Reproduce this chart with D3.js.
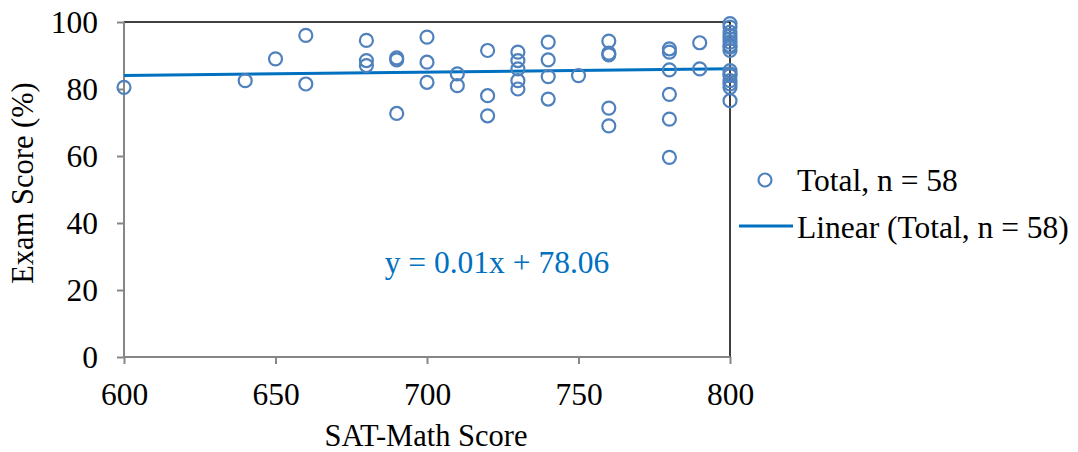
<!DOCTYPE html>
<html><head><meta charset="utf-8">
<script src="https://cdn.jsdelivr.net/npm/d3@7"></script>
<style>body{margin:0;background:#fff;} svg text{font-family:"Liberation Serif","Times New Roman",serif !important;}</style>
</head><body><svg id="c" width="1078" height="452"></svg>
<script>
const satScores = [600,640,650,660,660,680,680,680,690,690,690,700,700,700,710,710,720,720,720,
  730,730,730,730,730,740,740,740,740,750,760,760,760,760,760,780,780,780,780,780,780,790,790,
  800,800,800,800,800,800,800,800,800,800,800,800,800,800,800,800];
const examScores = [80.5,82.5,89,96,81.5,94.5,88.5,87,89.3,88.7,72.7,95.5,88,82,84.5,81,91.5,78,72,
  91,88.5,86,82.5,80,94,88.7,83.7,77,84,94.3,90.7,90.2,74.3,69,92,91,85.7,78.4,71,59.6,93.8,86,
  99.5,98.5,97,96,95,94,93,92.5,91.5,85.5,84.5,84,82.5,81.5,80.5,76.5];
const xTicks = [600,650,700,750,800];
const yTicks = [0,20,40,60,80,100];
const slope = 0.01, intercept = 78.06;
const seriesName = "Total, n = 58";
const trendName = "Linear (Total, n = 58)";
const eqLabel = "y = 0.01x + 78.06";

const svg = d3.select("#c");
const x = d3.scaleLinear().domain([600,800]).range([124,730]);
const y = d3.scaleLinear().domain([0,100]).range([357,22]);
const grey = "#868686";
const FS = "31.5px";

svg.append("line").attr("x1",124).attr("x2",730).attr("y1",22).attr("y2",22).attr("stroke","#000").attr("stroke-width",1.5);
svg.append("line").attr("x1",730).attr("x2",730).attr("y1",22).attr("y2",357).attr("stroke","#000").attr("stroke-width",1.5);

const yAxis = svg.append("g").attr("transform","translate(124,0)")
  .call(d3.axisLeft(y).tickValues(yTicks).tickSize(7).tickPadding(19));
const xAxis = svg.append("g").attr("transform","translate(0,357)")
  .call(d3.axisBottom(x).tickValues(xTicks).tickSize(7).tickPadding(19));
[yAxis,xAxis].forEach(a=>{
  a.attr("font-family",null).attr("font-size",null);
  a.select(".domain").attr("stroke",grey).attr("stroke-width",2);
  a.selectAll(".tick line").attr("stroke",grey).attr("stroke-width",2);
  a.selectAll(".tick text").attr("fill","#000").style("font-size",FS);
});
yAxis.select(".domain").attr("d","M0,22V357");
xAxis.select(".domain").attr("d","M124,0H730");

svg.append("line")
  .attr("x1",x(600)).attr("y1",y(slope*600+intercept))
  .attr("x2",x(800)).attr("y2",y(slope*800+intercept))
  .attr("stroke","#0070C0").attr("stroke-width",3);

svg.append("g").selectAll("circle").data(satScores.map((s,i)=>[s,examScores[i]])).join("circle")
  .attr("cx",d=>x(d[0])).attr("cy",d=>y(d[1])).attr("r",6.5)
  .attr("fill","none").attr("stroke","#4F81BD").attr("stroke-width",2.2);

svg.append("text").attr("x",497).attr("y",273).attr("text-anchor","middle")
  .attr("fill","#0070C0").style("font-size",FS).text(eqLabel);

svg.append("text").attr("x",426).attr("y",446).attr("text-anchor","middle").style("font-size","30.5px").text("SAT-Math Score");
svg.append("text").attr("transform","translate(33,183) rotate(-90)").attr("text-anchor","middle").style("font-size","30.5px").text("Exam Score (%)");

svg.append("circle").attr("cx",765).attr("cy",180).attr("r",6.5).attr("fill","none").attr("stroke","#4F81BD").attr("stroke-width",2.2);
svg.append("text").attr("x",797).attr("y",191).style("font-size",FS).text(seriesName);
svg.append("line").attr("x1",739).attr("x2",793).attr("y1",226).attr("y2",226).attr("stroke","#0070C0").attr("stroke-width",3);
svg.append("text").attr("x",797).attr("y",238).style("font-size",FS).text(trendName);
</script></body></html>
